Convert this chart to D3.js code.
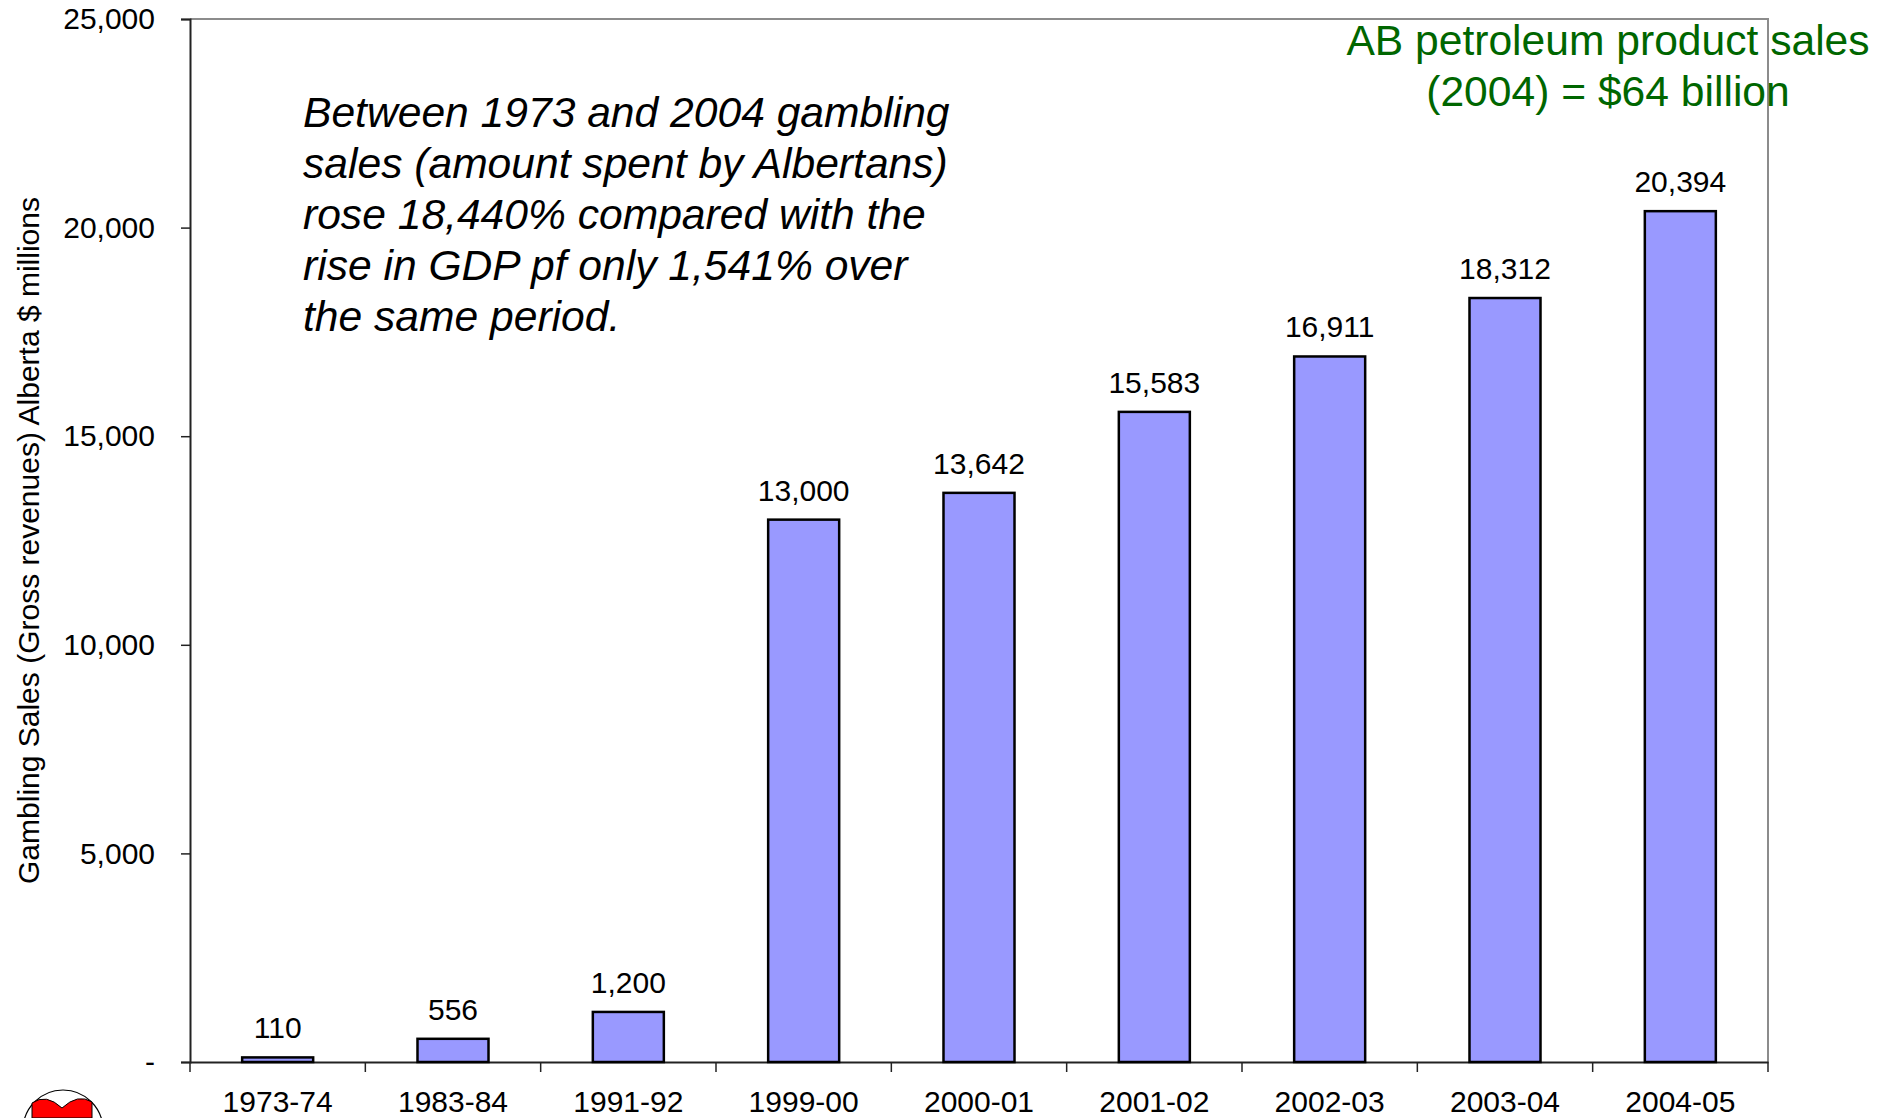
<!DOCTYPE html>
<html>
<head>
<meta charset="utf-8">
<script src="https://cdn.jsdelivr.net/npm/d3@7"></script>
<style>
  body { margin: 0; background: #fff; }
  svg { display: block; font-family: "Liberation Sans", Arial, sans-serif; }
  .axis text { font-family: "Liberation Sans", Arial, sans-serif; fill: #000; }
</style>
</head>
<body>
<script>
var categories = ["1973-74", "1983-84", "1991-92", "1999-00", "2000-01", "2001-02", "2002-03", "2003-04", "2004-05"];
var sales = [110, 556, 1200, 13000, 13642, 15583, 16911, 18312, 20394];
var yTicks = [0, 5000, 10000, 15000, 20000, 25000];
var noteLines = [
  "Between 1973 and 2004 gambling",
  "sales (amount spent by Albertans)",
  "rose 18,440% compared with the",
  "rise in GDP pf only 1,541% over",
  "the same period."
];
var calloutLines = ["AB petroleum product sales", "(2004) = $64 billion"];
var yTitle = "Gambling Sales (Gross revenues) Alberta $ millions";

var w = 1879,
  h = 1118,
  plotLeft = 190,
  plotRight = 1768,
  plotTop = 19,
  plotBottom = 1062;

var svg = d3.select("body")
  .append("svg")
  .attr("width", w)
  .attr("height", h);

var data = categories.map((c, i) => ({ cat: c, value: sales[i] }));

var x = d3.scaleBand()
  .domain(categories)
  .range([plotLeft, plotRight])
  .paddingInner(0.595)
  .paddingOuter(0.2975);

var y = d3.scaleLinear()
  .domain([0, 25000])
  .range([plotBottom, plotTop]);

// plot frame, top and right in grey
svg.append("path")
  .attr("d", `M${plotLeft},${plotTop}H${plotRight}V${plotBottom}`)
  .attr("fill", "none")
  .attr("stroke", "#8c8c8c")
  .attr("stroke-width", 2);

// y axis
var yAxis = d3.axisLeft(y)
  .tickValues(yTicks)
  .tickSize(9)
  .tickPadding(26)
  .tickFormat(d => d === 0 ? "-" : d3.format(",")(d));

var gy = svg.append("g")
  .attr("class", "axis")
  .attr("transform", `translate(${plotLeft},0)`)
  .call(yAxis);
gy.select(".domain").attr("stroke", "#222").attr("stroke-width", 2);
gy.selectAll(".tick line").attr("stroke", "#222").attr("stroke-width", 1.5);
gy.selectAll("text").style("font-size", "30px");

// x axis: labels under bars, ticks on category boundaries
var xAxis = d3.axisBottom(x).tickSize(0);
var gx = svg.append("g")
  .attr("class", "axis")
  .attr("transform", `translate(0,${plotBottom})`)
  .call(xAxis);
gx.select(".domain").attr("stroke", "#222").attr("stroke-width", 2);
gx.selectAll("text")
  .attr("y", 50)
  .attr("dy", 0)
  .style("font-size", "30px");

gx.selectAll(".bound")
  .data(d3.range(categories.length + 1))
  .enter()
  .append("line")
  .attr("class", "bound")
  .attr("x1", i => x.range()[0] + i * x.step())
  .attr("x2", i => x.range()[0] + i * x.step())
  .attr("y1", 0)
  .attr("y2", 10)
  .attr("stroke", "#222")
  .attr("stroke-width", 1.5);

// bars
svg.selectAll(".bar")
  .data(data)
  .enter()
  .append("rect")
  .attr("class", "bar")
  .attr("x", d => x(d.cat))
  .attr("y", d => y(d.value))
  .attr("width", x.bandwidth())
  .attr("height", d => y(0) - y(d.value))
  .attr("fill", "#9999ff")
  .attr("stroke", "#000")
  .attr("stroke-width", 2.5);

svg.selectAll(".val")
  .data(data)
  .enter()
  .append("text")
  .attr("class", "val")
  .attr("x", d => x(d.cat) + x.bandwidth() / 2)
  .attr("y", d => y(d.value) - 19)
  .attr("text-anchor", "middle")
  .style("font-size", "30px")
  .text(d => d3.format(",")(d.value));

// y title
svg.append("text")
  .attr("transform", `translate(39,${(plotTop + plotBottom) / 2}) rotate(-90)`)
  .attr("text-anchor", "middle")
  .style("font-size", "30px")
  .text(yTitle);

// italic note
svg.append("text")
  .style("font-size", "42.6px")
  .style("font-style", "italic")
  .selectAll("tspan")
  .data(noteLines)
  .enter()
  .append("tspan")
  .attr("x", 303)
  .attr("y", (d, i) => 127 + i * 51)
  .text(d => d);

// green callout
svg.append("text")
  .attr("text-anchor", "middle")
  .attr("fill", "#006600")
  .style("font-size", "42.6px")
  .selectAll("tspan")
  .data(calloutLines)
  .enter()
  .append("tspan")
  .attr("x", 1608)
  .attr("y", (d, i) => 55 + i * 51)
  .text(d => d);

// cut-off logo, bottom left
var logo = svg.append("g");
logo.append("circle")
  .attr("cx", 63)
  .attr("cy", 1130)
  .attr("r", 40)
  .attr("fill", "#fff")
  .attr("stroke", "#000")
  .attr("stroke-width", 1.2);
logo.append("path")
  .attr("d", "M32,1103 Q46,1093 62,1108 Q78,1093 92,1102 L92,1118 L32,1118 Z")
  .attr("fill", "#ff0000")
  .attr("stroke", "#000")
  .attr("stroke-width", 1);
</script>
</body>
</html>
